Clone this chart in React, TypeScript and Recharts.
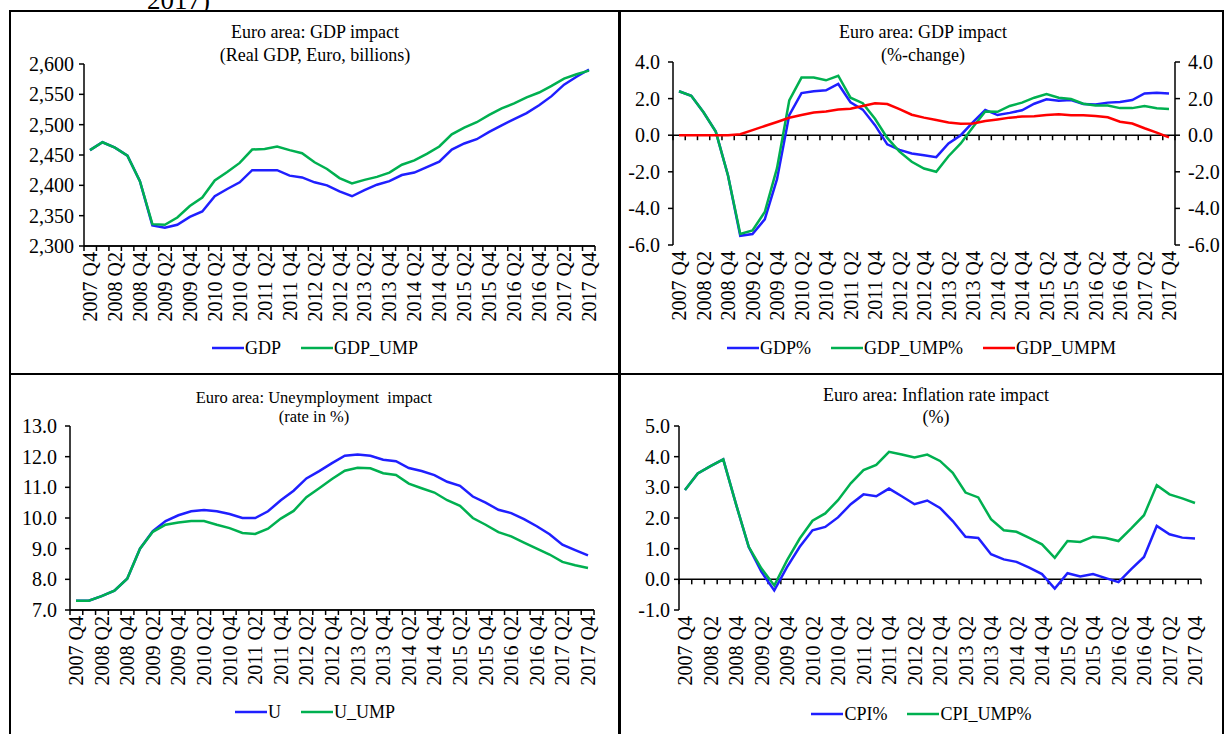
import React from 'react'
import { LineChart, Line, XAxis, YAxis, Legend, ReferenceLine } from 'recharts'

const FONT = '"Liberation Serif", "Times New Roman", serif'
const BLUE = '#1f1fff'
const GREEN = '#00b050'
const RED = '#ff0000'

const quarters = [
  '2007 Q4',
  '2008 Q1', '2008 Q2', '2008 Q3', '2008 Q4',
  '2009 Q1', '2009 Q2', '2009 Q3', '2009 Q4',
  '2010 Q1', '2010 Q2', '2010 Q3', '2010 Q4',
  '2011 Q1', '2011 Q2', '2011 Q3', '2011 Q4',
  '2012 Q1', '2012 Q2', '2012 Q3', '2012 Q4',
  '2013 Q1', '2013 Q2', '2013 Q3', '2013 Q4',
  '2014 Q1', '2014 Q2', '2014 Q3', '2014 Q4',
  '2015 Q1', '2015 Q2', '2015 Q3', '2015 Q4',
  '2016 Q1', '2016 Q2', '2016 Q3', '2016 Q4',
  '2017 Q1', '2017 Q2', '2017 Q3', '2017 Q4',
]

// real GDP, euro billions
const gdp = [
  2458, 2471, 2462, 2449, 2407, 2334, 2330, 2335, 2348, 2357,
  2382, 2394, 2405, 2425, 2425, 2425, 2416, 2413, 2405, 2400,
  2390, 2382, 2392, 2401, 2407, 2417, 2421, 2430, 2439, 2459,
  2469, 2476, 2488, 2499, 2509, 2519, 2532, 2547, 2566, 2579, 2591,
]
const gdpUmp = [
  2458, 2471, 2462, 2449, 2407, 2336, 2335, 2347, 2366, 2380,
  2408, 2422, 2437, 2459, 2460, 2464, 2458, 2453, 2438, 2427,
  2412, 2403, 2409, 2414, 2421, 2434, 2441, 2452, 2464, 2484,
  2495, 2504, 2516, 2527, 2535, 2545, 2553, 2564, 2576, 2583, 2589,
]

// GDP % change
const gdpPct = [
  2.4, 2.15, 1.25, 0.2, -2.2, -5.5, -5.4, -4.6, -2.4, 1.1,
  2.3, 2.4, 2.45, 2.8, 1.8, 1.4, 0.55, -0.5, -0.8, -1.0,
  -1.1, -1.2, -0.45, 0.0, 0.72, 1.38, 1.1, 1.22, 1.36, 1.72,
  1.96, 1.88, 1.92, 1.7, 1.68, 1.78, 1.82, 1.92, 2.28, 2.32, 2.28,
]
const gdpUmpPct = [
  2.4, 2.15, 1.25, 0.2, -2.2, -5.4, -5.2, -4.2, -1.8, 1.9,
  3.15, 3.15, 3.0, 3.25, 2.05, 1.75, 0.9, -0.15, -0.9, -1.45,
  -1.82, -2.0, -1.15, -0.45, 0.45, 1.3, 1.28, 1.6, 1.78, 2.05,
  2.25, 2.05, 1.98, 1.72, 1.62, 1.62, 1.48, 1.48, 1.6, 1.47, 1.43,
]
const gdpUmpm = [
  0, 0, 0, 0, 0, 0.05, 0.28, 0.5, 0.72, 0.95,
  1.1, 1.24, 1.3, 1.4, 1.45, 1.6, 1.74, 1.7, 1.42, 1.12,
  0.96, 0.83, 0.7, 0.62, 0.64, 0.77, 0.86, 0.96, 1.02, 1.04,
  1.1, 1.14, 1.09, 1.09, 1.05, 0.98, 0.74, 0.64, 0.38, 0.14, -0.12,
]

// unemployment rate, %
const unemp = [
  7.3, 7.3, 7.45, 7.63, 8.02, 9.0, 9.57, 9.9, 10.09, 10.22,
  10.26, 10.22, 10.13, 10.0, 10.0, 10.22, 10.58, 10.89, 11.29, 11.53,
  11.79, 12.03, 12.07, 12.03, 11.9, 11.85, 11.63, 11.53, 11.4, 11.18,
  11.05, 10.7, 10.5, 10.27, 10.16, 9.96, 9.73, 9.47, 9.13, 8.95, 8.78,
]
const unempUmp = [
  7.3, 7.3, 7.45, 7.63, 8.02, 9.0, 9.55, 9.78, 9.85, 9.9,
  9.9, 9.78, 9.67, 9.51, 9.48, 9.65, 9.98, 10.23, 10.68, 10.97,
  11.27, 11.54, 11.64, 11.62, 11.46, 11.4, 11.12, 10.97, 10.83, 10.58,
  10.4, 10.0, 9.78, 9.54, 9.4, 9.2, 9.0, 8.81, 8.57, 8.46, 8.37,
]

// inflation, %
const cpi = [
  2.91, 3.45, 3.69, 3.91, 2.45, 1.05, 0.24, -0.36, 0.4, 1.06,
  1.6, 1.71, 2.02, 2.45, 2.77, 2.71, 2.96, 2.71, 2.45, 2.57,
  2.33, 1.9, 1.39, 1.35, 0.82, 0.65, 0.57, 0.38, 0.17, -0.3,
  0.2, 0.09, 0.17, 0.04, -0.09, 0.33, 0.73, 1.74, 1.47, 1.36, 1.33,
]
const cpiUmp = [
  2.91, 3.45, 3.69, 3.91, 2.45, 1.06, 0.35, -0.2, 0.62, 1.33,
  1.91, 2.15, 2.58, 3.13, 3.56, 3.73, 4.16, 4.07, 3.97, 4.07,
  3.86, 3.47, 2.83, 2.67, 1.96, 1.6, 1.55, 1.35, 1.14, 0.7,
  1.25, 1.22, 1.39, 1.35, 1.25, 1.66, 2.09, 3.07, 2.77, 2.64, 2.49,
]

const gdpTicks = [2300, 2350, 2400, 2450, 2500, 2550, 2600]
const pctTicks = [-6, -4, -2, 0, 2, 4]
const unempTicks = [7, 8, 9, 10, 11, 12, 13]
const cpiTicks = [-1, 0, 1, 2, 3, 4, 5]

const levelData = quarters.map((q, i) => ({ q, GDP: gdp[i], GDP_UMP: gdpUmp[i] }))
const pctData = quarters.map((q, i) => ({
  q,
  'GDP%': gdpPct[i],
  'GDP_UMP%': gdpUmpPct[i],
  GDP_UMPM: gdpUmpm[i],
}))
const unempData = quarters.map((q, i) => ({ q, U: unemp[i], U_UMP: unempUmp[i] }))
const cpiData = quarters.map((q, i) => ({ q, 'CPI%': cpi[i], 'CPI_UMP%': cpiUmp[i] }))

const axisLine = { stroke: '#000', strokeWidth: 1.5 }

const XTick = (props: any) => {
  const { x, y, payload } = props
  return (
    <text
      x={x}
      y={y}
      transform={`rotate(-90 ${x} ${y})`}
      textAnchor="end"
      dominantBaseline="central"
      fill="#000"
      style={{ fontFamily: FONT, fontSize: 20 }}
    >
      {payload.value}
    </text>
  )
}

const YTick = (props: any) => {
  const { x, y, payload, textAnchor, fmt } = props
  return (
    <text
      x={x}
      y={y}
      textAnchor={textAnchor}
      dominantBaseline="central"
      fill="#000"
      style={{ fontFamily: FONT, fontSize: 20 }}
    >
      {fmt(payload.value)}
    </text>
  )
}

// excel style tick marks between the categories, hung under a reference line
const BoundaryTicks = (props: any) => {
  const vb = props.viewBox || {}
  const n = quarters.length
  const marks = []
  for (let k = 0; k <= n; k++) {
    const x = vb.x + (k * vb.width) / n
    marks.push(<line key={k} x1={x} x2={x} y1={vb.y} y2={vb.y + 5} stroke="#000" strokeWidth={1.5} />)
  }
  return <g>{marks}</g>
}

const LegendRow = (props: any) => (
  <div
    style={{
      display: 'flex',
      justifyContent: 'center',
      alignItems: 'center',
      fontFamily: FONT,
      fontSize: 18,
      color: '#000',
      height: 24,
    }}
  >
    {(props.payload || []).map((p: any) => (
      <span key={p.value} style={{ display: 'flex', alignItems: 'center', margin: '0 10px' }}>
        <svg width={32} height={6} style={{ marginRight: 1 }}>
          <line x1={0} y1={3} x2={32} y2={3} stroke={p.color} strokeWidth={2.5} />
        </svg>
        <span>{p.value}</span>
      </span>
    ))}
  </div>
)

const Title = ({ lines, cx, top, size, lh }: { lines: string[]; cx: number; top: number; size: number; lh: number }) => (
  <div
    style={{
      position: 'absolute',
      left: cx - 200,
      top,
      width: 400,
      textAlign: 'center',
      fontFamily: FONT,
      fontSize: size,
      lineHeight: `${lh}px`,
      color: '#000',
      whiteSpace: 'pre',
    }}
  >
    {lines.map((l) => (
      <div key={l}>{l}</div>
    ))}
  </div>
)

const box = (left: number, top: number): React.CSSProperties => ({ position: 'absolute', left, top })

const fmtComma = (v: number) => v.toLocaleString('en-US')
const fmt1 = (v: number) => v.toFixed(1)

export default function App() {
  return (
    <div
      style={{
        position: 'absolute',
        left: 0,
        top: 0,
        width: 1225,
        height: 734,
        background: '#fff',
        overflow: 'hidden',
        fontFamily: FONT,
      }}
    >
      {/* caption remnant from the page above */}
      <svg width={120} height={11} style={{ position: 'absolute', left: 140, top: 0 }}>
        <text x={7} y={9} fill="#000" style={{ fontFamily: FONT, fontSize: 27 }}>
          2017)
        </text>
      </svg>

      {/* table borders */}
      <div style={{ position: 'absolute', left: 9, top: 10, width: 1215, height: 2, background: '#000' }} />
      <div style={{ position: 'absolute', left: 9, top: 10, width: 2, height: 724, background: '#000' }} />
      <div style={{ position: 'absolute', left: 1222, top: 10, width: 2, height: 724, background: '#000' }} />
      <div style={{ position: 'absolute', left: 618, top: 10, width: 3, height: 724, background: '#000' }} />
      <div style={{ position: 'absolute', left: 9, top: 373, width: 1215, height: 2, background: '#000' }} />

      {/* top left: GDP level */}
      <div style={box(10, 11)}>
        <LineChart width={610} height={363} data={levelData} margin={{ top: 53, right: 25, left: 0, bottom: 14 }}>
          <XAxis
            dataKey="q"
            interval={1}
            height={90}
            tick={<XTick />}
            tickLine={false}
            tickSize={5}
            tickMargin={1}
            axisLine={axisLine}
            padding={{ left: 6, right: 6 }}
          />
          <YAxis
            width={74}
            domain={[2300, 2600]}
            ticks={gdpTicks}
            tick={<YTick fmt={fmtComma} />}
            tickSize={5}
            tickMargin={5}
            tickLine={axisLine}
            axisLine={axisLine}
          />
          <ReferenceLine y={2300} stroke="#000" strokeWidth={1.5} label={<BoundaryTicks />} />
          <Legend verticalAlign="bottom" height={24} content={<LegendRow />} wrapperStyle={{ left: 0, width: 610 }} />
          <Line dataKey="GDP" stroke={BLUE} strokeWidth={2.5} dot={false} isAnimationActive={false} />
          <Line dataKey="GDP_UMP" stroke={GREEN} strokeWidth={2.5} dot={false} isAnimationActive={false} />
        </LineChart>
      </div>
      <Title lines={['Euro area: GDP impact', '(Real GDP, Euro, billions)']} cx={315} top={21} size={18} lh={23} />

      {/* top right: GDP % change, GDP_UMPM on the secondary axis */}
      <div style={box(620, 11)}>
        <LineChart width={603} height={363} data={pctData} margin={{ top: 51, right: 0, left: 0, bottom: 14 }}>
          <XAxis
            dataKey="q"
            interval={1}
            height={91}
            tick={<XTick />}
            tickLine={false}
            tickSize={5}
            tickMargin={1}
            axisLine={false}
            padding={{ left: 6, right: 6 }}
          />
          <YAxis
            yAxisId="left"
            width={53}
            domain={[-6, 4]}
            ticks={pctTicks}
            allowDataOverflow
            tick={<YTick fmt={fmt1} />}
            tickSize={5}
            tickMargin={8}
            tickLine={axisLine}
            axisLine={axisLine}
          />
          <YAxis
            yAxisId="right"
            orientation="right"
            width={48}
            domain={[-6, 4]}
            ticks={pctTicks}
            allowDataOverflow
            tick={<YTick fmt={fmt1} />}
            tickSize={5}
            tickMargin={8}
            tickLine={axisLine}
            axisLine={axisLine}
          />
          <ReferenceLine yAxisId="left" y={0} stroke="#000" strokeWidth={1.5} label={<BoundaryTicks />} />
          <Legend verticalAlign="bottom" height={24} content={<LegendRow />} wrapperStyle={{ left: 0, width: 603 }} />
          <Line yAxisId="left" dataKey="GDP%" stroke={BLUE} strokeWidth={2.5} dot={false} isAnimationActive={false} />
          <Line yAxisId="left" dataKey="GDP_UMP%" stroke={GREEN} strokeWidth={2.5} dot={false} isAnimationActive={false} />
          <Line yAxisId="right" dataKey="GDP_UMPM" stroke={RED} strokeWidth={2.5} dot={false} isAnimationActive={false} />
        </LineChart>
      </div>
      <Title lines={['Euro area: GDP impact', '(%-change)']} cx={923} top={21} size={18} lh={23} />

      {/* bottom left: unemployment */}
      <div style={box(10, 374)}>
        <LineChart width={610} height={360} data={unempData} margin={{ top: 52, right: 26, left: 0, bottom: 10 }}>
          <XAxis
            dataKey="q"
            interval={1}
            height={90}
            tick={<XTick />}
            tickLine={false}
            tickSize={5}
            tickMargin={1}
            axisLine={axisLine}
            padding={{ left: 6, right: 6 }}
          />
          <YAxis
            width={60}
            domain={[7, 13]}
            ticks={unempTicks}
            tick={<YTick fmt={fmt1} />}
            tickSize={5}
            tickMargin={8}
            tickLine={axisLine}
            axisLine={axisLine}
          />
          <ReferenceLine y={7} stroke="#000" strokeWidth={1.5} label={<BoundaryTicks />} />
          <Legend verticalAlign="bottom" height={24} content={<LegendRow />} wrapperStyle={{ left: 0, width: 610 }} />
          <Line dataKey="U" stroke={BLUE} strokeWidth={2.5} dot={false} isAnimationActive={false} />
          <Line dataKey="U_UMP" stroke={GREEN} strokeWidth={2.5} dot={false} isAnimationActive={false} />
        </LineChart>
      </div>
      <Title lines={['Euro area: Uneymployment  impact', '(rate in %)']} cx={314} top={388} size={16.5} lh={19} />

      {/* bottom right: inflation */}
      <div style={box(620, 374)}>
        <LineChart width={603} height={360} data={cpiData} margin={{ top: 52, right: 22, left: 0, bottom: 8 }}>
          <XAxis
            dataKey="q"
            interval={1}
            height={92}
            tick={<XTick />}
            tickLine={false}
            tickSize={5}
            tickMargin={1}
            axisLine={false}
            padding={{ left: 6, right: 6 }}
          />
          <YAxis
            width={59}
            domain={[-1, 5]}
            ticks={cpiTicks}
            tick={<YTick fmt={fmt1} />}
            tickSize={5}
            tickMargin={4}
            tickLine={axisLine}
            axisLine={axisLine}
          />
          <ReferenceLine y={0} stroke="#000" strokeWidth={1.5} label={<BoundaryTicks />} />
          <Legend verticalAlign="bottom" height={24} content={<LegendRow />} wrapperStyle={{ left: 0, width: 603 }} />
          <Line dataKey="CPI%" stroke={BLUE} strokeWidth={2.5} dot={false} isAnimationActive={false} />
          <Line dataKey="CPI_UMP%" stroke={GREEN} strokeWidth={2.5} dot={false} isAnimationActive={false} />
        </LineChart>
      </div>
      <Title lines={['Euro area: Inflation rate impact', '(%)']} cx={936} top={384} size={18} lh={22} />
    </div>
  )
}
